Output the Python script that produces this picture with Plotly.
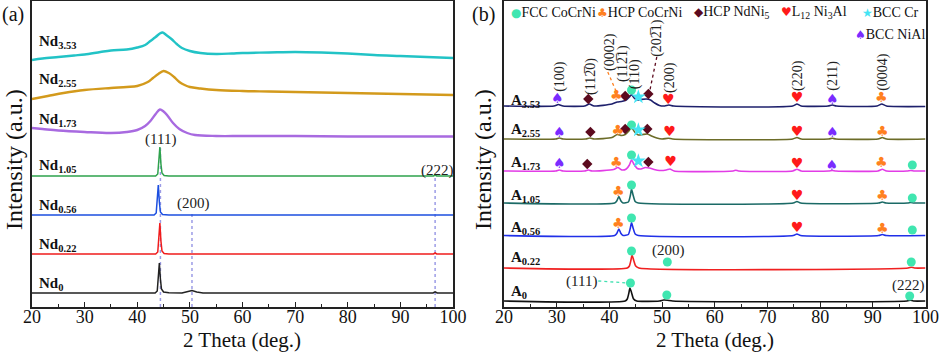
import plotly.graph_objects as go

# ---------------- Panel (a) data: 2theta and stacked intensity (a.u.) ----------------
a_names = ["Nd<sub>3.53</sub>", "Nd<sub>2.55</sub>", "Nd<sub>1.73</sub>", "Nd<sub>1.05</sub>",
           "Nd<sub>0.56</sub>", "Nd<sub>0.22</sub>", "Nd<sub>0</sub>"]
a_colors = ["#22c3c6", "#d39a1c", "#a86ae0", "#2ea24c", "#1c4fe0", "#f01c1c", "#222222"]

nd353_x = [20, 22, 25, 28, 30, 33, 35, 38, 40, 41.5, 42.5, 43.5, 44.3, 44.8, 45.5, 46.5, 47.5, 48.5, 50, 52, 55, 58, 60, 65, 70, 75, 80, 85, 90, 95, 100]
nd353_y = [247, 248.5, 250, 251.5, 252.5, 255, 256.5, 257.5, 259.5, 262, 266, 270, 273.5, 274.5, 272, 268, 263, 259, 256, 254, 253, 253.5, 254, 254.5, 255, 254.5, 253.5, 252, 251, 250, 249]

nd255_x = [20, 23, 26, 30, 35, 38, 40, 42, 43, 44, 45, 46, 47, 48, 49, 50, 52, 55, 60, 65, 70, 75, 80, 85, 90, 95, 100]
nd255_y = [208, 211, 214, 217, 219, 220, 221, 225, 229, 233, 236, 234, 230, 225, 222, 220, 218.5, 217, 216, 215.5, 215, 214.5, 214, 213.5, 213, 212.5, 212]

nd173_x = [20, 22, 25, 30, 35, 38, 40, 41.5, 42.5, 43.5, 44.3, 45, 45.8, 46.8, 48, 49.5, 51, 55, 60, 70, 80, 90, 100]
nd173_y = [179, 178, 176.5, 175, 174, 175, 177, 181, 186, 193, 197.5, 195.5, 191, 184, 178, 174, 172, 171, 171, 171, 170.5, 170.5, 170.5]

nd105_x = [20, 43.5, 43.9, 44.1, 44.3, 44.5, 44.7, 45.1, 46, 96.3, 96.6, 96.9, 100]
nd105_y = [131, 131, 133, 143, 160, 143, 134, 131.5, 131, 131, 132, 131, 131]

nd056_x = [20, 43.2, 43.6, 43.8, 44.0, 44.2, 44.4, 44.8, 46, 100]
nd056_y = [92, 92, 94, 105, 122, 105, 95, 92.5, 92, 92]

nd022_x = [20, 43.5, 43.9, 44.1, 44.3, 44.5, 44.7, 45.1, 46, 96.3, 96.6, 96.9, 100]
nd022_y = [53, 53, 55, 66, 84, 66, 56, 53.5, 53, 53, 54, 53, 53]

nd0_x = [20, 43.4, 43.8, 44.0, 44.2, 44.4, 44.6, 45.0, 46, 48.5, 49.5, 50.4, 51.3, 52.5, 96.2, 96.6, 97.0, 100]
nd0_y = [14, 14, 16, 27, 44, 28, 18, 15, 14.3, 14, 15, 16.5, 15, 14, 14, 15.2, 14, 14]

a_series = [(nd353_x, nd353_y), (nd255_x, nd255_y), (nd173_x, nd173_y), (nd105_x, nd105_y),
            (nd056_x, nd056_y), (nd022_x, nd022_y), (nd0_x, nd0_y)]
a_label_y = [265, 227, 187, 141, 101, 62, 23]

a_ref_x = [44.4, 50.4, 96.6]
a_ref_top = [159, 95, 129]
a_hkl = ["(111)", "(200)", "(222)"]
a_hkl_x = [44.5, 50.6, 97.0]
a_hkl_y = [168, 104, 137]

# ---------------- Panel (b) data ----------------
b_names = ["A<sub>3.53</sub>", "A<sub>2.55</sub>", "A<sub>1.73</sub>", "A<sub>1.05</sub>",
           "A<sub>0.56</sub>", "A<sub>0.22</sub>", "A<sub>0</sub>"]
b_colors = ["#1e206c", "#6c6c28", "#e23ce6", "#1b6a66", "#2030e8", "#f02020", "#111111"]

a353_x = [20, 29.5, 30.3, 31.2, 35.3, 36.2, 37.1, 40.5, 41.5, 42.3, 43.2, 43.8, 44.2, 44.7, 45.2, 46.0, 47.0, 47.8, 48.6, 49.5, 50.5, 51.3, 52.2, 74.8, 75.6, 76.4, 81.5, 82.3, 83.1, 90.8, 91.7, 92.6, 100]
a353_y = [201, 201, 202.5, 201, 201, 203, 201, 203, 205, 205.5, 207, 210, 212.5, 209, 207, 207.5, 208, 207, 204, 201.5, 201, 202, 201, 201, 203, 201, 201, 202, 201, 201, 203, 201, 200.5]

a255_x = [20, 29.8, 30.5, 31.2, 35.5, 36.3, 37.1, 40.5, 41.5, 42.3, 43.0, 43.7, 44.2, 44.8, 45.5, 46.3, 47.2, 48.0, 49.0, 50.0, 51.2, 52, 74.8, 75.6, 76.4, 81.6, 82.3, 83.0, 91.0, 91.8, 92.6, 100]
a255_y = [168, 168, 169, 168, 168, 169, 168, 169.5, 172.5, 171.5, 172.5, 176, 179.5, 175, 172, 172.5, 173, 171, 169, 168, 168.8, 168, 168, 169.5, 168, 168, 168.7, 168, 168, 169.5, 168, 168]

a173_x = [20, 29.8, 30.5, 31.2, 35.3, 36.0, 36.7, 40.8, 41.6, 42.4, 43.2, 43.8, 44.2, 44.7, 45.3, 46.0, 46.8, 47.6, 48.5, 49.5, 50.8, 51.5, 52.3, 63.5, 64.0, 64.5, 74.8, 75.6, 76.4, 81.6, 82.3, 83.0, 91.0, 91.8, 92.6, 96.5, 97.2, 97.9, 100]
a173_y = [136, 136, 137, 136, 136, 137, 136, 137.5, 139.5, 137, 138, 142, 147, 142.5, 138.5, 138, 139.5, 139, 137.5, 136.5, 137, 138, 136, 136, 136.7, 136, 136, 137.7, 136, 136, 136.5, 136, 136, 137.7, 136, 136, 136.5, 136, 136]

a105_x = [20, 41.0, 41.4, 41.8, 42.2, 42.6, 43.6, 44.0, 44.2, 44.5, 44.9, 45.5, 74.9, 75.6, 76.3, 91.1, 91.8, 92.5, 96.6, 97.2, 97.8, 100]
a105_y = [104, 104, 106, 110.5, 106, 104, 105, 112, 118, 112, 105.5, 104, 104, 105.5, 104, 104, 105, 104, 104, 104.5, 104, 104]

a056_x = [20, 41.0, 41.4, 41.8, 42.2, 42.6, 43.6, 44.0, 44.2, 44.5, 44.9, 45.5, 74.9, 75.6, 76.3, 91.1, 91.8, 92.5, 100]
a056_y = [71.5, 71.5, 73.5, 78, 73.5, 71.5, 72.5, 79.5, 84.5, 79, 73, 71.5, 71.5, 73, 71.5, 71.5, 72.5, 71.5, 71.5]

a022_x = [20, 43.4, 43.8, 44.1, 44.3, 44.6, 45.0, 45.6, 96.7, 97.3, 97.9, 100]
a022_y = [39, 39, 41, 47, 52, 47, 41, 39, 39, 39.8, 39, 39]

a0_x = [20, 43.0, 43.4, 43.7, 43.9, 44.2, 44.6, 45.2, 49.5, 50.3, 51.0, 52, 96.5, 97.1, 97.7, 100]
a0_y = [6, 6, 8, 14, 19, 14.5, 8, 6, 6, 7, 6.8, 6, 6, 6.8, 6, 6]

b_series = [(a353_x, a353_y), (a255_x, a255_y), (a173_x, a173_y), (a105_x, a105_y),
            (a056_x, a056_y), (a022_x, a022_y), (a0_x, a0_y)]
b_label_y = [206, 177, 144, 111, 79, 49, 15]

# phase markers (2theta, stacked height)
fcc_x = [44.2, 44.2, 44.2, 97.5, 44.2, 97.5, 44.2, 97.5, 44.2, 51.0, 97.3, 44.0, 50.9, 97.0]
fcc_y = [217, 182, 152, 142, 122, 109, 89, 77, 56, 45, 45, 24, 12, 11]
hcp_x = [41.3, 41.6, 41.3, 41.7, 41.7, 91.6, 91.8, 91.6, 91.8, 91.8]
hcp_y = [211, 176, 144, 115, 83, 209, 175, 144, 111, 78]
ndni5_x = [36.0, 43.0, 47.4, 36.4, 43.0, 47.2, 35.8, 47.4]
ndni5_y = [208, 211, 213, 175, 178, 178, 143, 145]
l12_x = [51.2, 75.6, 51.4, 75.6, 51.6, 75.6, 75.6, 75.6]
l12_y = [207, 209, 175, 175, 145, 143, 111, 79]
bcccr_x = [45.5, 45.5, 45.5]
bcccr_y = [210, 177, 146]
nial_x = [30.1, 82.3, 30.5, 82.3, 30.5, 82.2]
nial_y = [208, 207, 174, 174, 143, 141]

OV = "\u0305"
b_top_hkl = ["(100)", "(112" + OV + "0)", "(0002)", "(112" + OV + "1)", "(110)", "(202" + OV + "1)",
             "(200)", "(220)", "(211)", "(0004)"]
b_top_x = [30.6, 36.5, 40.1, 42.6, 44.9, 49.0, 51.5, 75.8, 82.4, 91.9]
b_top_y = [231, 231, 255, 243, 233, 269, 230, 231, 231, 235]

b_low_hkl = ["(111)", "(200)", "(222)"]
b_low_x = [34.8, 51.3, 96.7]
b_low_y = [26, 57, 22]

TF = "Liberation Serif"
fig = go.Figure()

# reference dotted lines (a)
for xv, top in zip(a_ref_x, a_ref_top):
    fig.add_trace(go.Scatter(x=[xv, xv], y=[0, top], mode="lines", xaxis="x", yaxis="y",
                             line=dict(color="#9c9ce6", width=1.5, dash="dot"), hoverinfo="skip"))

for (xs, ys), c, i in zip(a_series, a_colors, range(7)):
    shape = "spline" if i < 3 else "linear"
    fig.add_trace(go.Scatter(x=xs, y=ys, mode="lines", xaxis="x", yaxis="y",
                             line=dict(color=c, width=2.4 if i < 3 else 1.5, shape=shape)))

for (xs, ys), c in zip(b_series, b_colors):
    fig.add_trace(go.Scatter(x=xs, y=ys, mode="lines", xaxis="x2", yaxis="y2",
                             line=dict(color=c, width=1.6, shape="spline", smoothing=0.6)))

# connector dotted lines (b)
fig.add_trace(go.Scatter(x=[39.7, 41.4], y=[235, 214], mode="lines", xaxis="x2", yaxis="y2",
                         line=dict(color="#ff8020", width=1.3, dash="dot")))
fig.add_trace(go.Scatter(x=[49.0, 47.7], y=[250, 217], mode="lines", xaxis="x2", yaxis="y2",
                         line=dict(color="#5c0a1e", width=1.3, dash="dot")))
fig.add_trace(go.Scatter(x=[37.9, 43.5], y=[26, 24], mode="lines", xaxis="x2", yaxis="y2",
                         line=dict(color="#40e0b0", width=1.3, dash="dot")))

# markers
fig.add_trace(go.Scatter(x=fcc_x, y=fcc_y, mode="markers", xaxis="x2", yaxis="y2",
                         marker=dict(symbol="circle", size=9, color="#40e6b0")))
fig.add_trace(go.Scatter(x=ndni5_x, y=ndni5_y, mode="markers", xaxis="x2", yaxis="y2",
                         marker=dict(symbol="diamond", size=8, color="#5c0a1e")))
fig.add_trace(go.Scatter(x=bcccr_x, y=bcccr_y, mode="markers", xaxis="x2", yaxis="y2",
                         marker=dict(symbol="star", size=11, color="#44e4f4")))
for gx, gy, ch, col in [(hcp_x, hcp_y, "\u2663", "#ff8020"), (l12_x, l12_y, "\u2665", "#ff1a1a"),
                        (nial_x, nial_y, "\u2660", "#7a2cff")]:
    fig.add_trace(go.Scatter(x=gx, y=gy, mode="text", xaxis="x2", yaxis="y2", text=[ch] * len(gx),
                             textposition="middle center",
                             textfont=dict(family="DejaVu Sans", size=14, color=col)))

ann = []
# sample labels
for name, yv in zip(a_names, a_label_y):
    ann.append(dict(x=20.9, y=yv, xref="x", yref="y", text="<b>" + name + "</b>", showarrow=False,
                    xanchor="left", yanchor="middle", font=dict(family=TF, size=15, color="#111")))
for name, yv in zip(b_names, b_label_y):
    ann.append(dict(x=20.9, y=yv, xref="x2", yref="y2", text="<b>" + name + "</b>", showarrow=False,
                    xanchor="left", yanchor="middle", font=dict(family=TF, size=15, color="#111")))
for t, xv, yv in zip(a_hkl, a_hkl_x, a_hkl_y):
    ann.append(dict(x=xv, y=yv, xref="x", yref="y", text=t, showarrow=False,
                    xanchor="center", yanchor="middle",
                    font=dict(family=TF, size=15, color="#222")))
for t, xv, yv in zip(b_low_hkl, b_low_x, b_low_y):
    ann.append(dict(x=xv, y=yv, xref="x2", yref="y2", text=t, showarrow=False,
                    xanchor="center", yanchor="middle",
                    font=dict(family=TF, size=15, color="#222")))
for t, xv, yv in zip(b_top_hkl, b_top_x, b_top_y):
    ann.append(dict(x=xv, y=yv, xref="x2", yref="y2", text=t, showarrow=False, textangle=-90,
                    xanchor="center", yanchor="middle",
                    font=dict(family=TF, size=14, color="#222")))

# legend for (b)
leg = [("\u25CF", "#40e6b0", "FCC CoCrNi", 509, 13),
       ("\u2663", "#ff8020", "HCP CoCrNi", 595, 13),
       ("\u25C6", "#5c0a1e", "HCP NdNi<sub>5</sub>", 692, 13),
       ("\u2665", "#ff1a1a", "L<sub>12</sub> Ni<sub>3</sub>Al", 779, 13),
       ("\u2605", "#44e4f4", "BCC Cr", 860, 13),
       ("\u2660", "#7a2cff", "BCC NiAl", 853, 35)]
for sym, col, txt, px, py in leg:
    ann.append(dict(x=px / 940, y=1 - py / 353, xref="paper", yref="paper",
                    text=f"<span style='color:{col};font-family:DejaVu Sans;font-size:12px'>{sym}</span>{txt}",
                    showarrow=False, xanchor="left", yanchor="middle",
                    font=dict(family=TF, size=14, color="#111")))

# panel letters and axis titles
for lbl, cx in [("(a)", 13), ("(b)", 483)]:
    ann.append(dict(x=cx / 940, y=1 - 15 / 353, xref="paper", yref="paper", text=lbl, showarrow=False,
                    xanchor="center", yanchor="middle", font=dict(family=TF, size=20, color="#111")))
for cx in [14, 483]:
    ann.append(dict(x=cx / 940, y=1 - 160 / 353, xref="paper", yref="paper", text="Intensity (a.u.)",
                    showarrow=False, textangle=-90, xanchor="center", yanchor="middle",
                    font=dict(family=TF, size=24, color="#111")))
for cx in [242, 715]:
    ann.append(dict(x=cx / 940, y=1 - 340 / 353, xref="paper", yref="paper", text="2 Theta (deg.)",
                    showarrow=False, xanchor="center", yanchor="middle",
                    font=dict(family=TF, size=21, color="#111")))

xcommon = dict(range=[20, 100], dtick=10, tick0=20, ticks="inside", ticklen=5, tickwidth=1.2,
               tickcolor="#222", showline=True, mirror=True, linecolor="#222", linewidth=1.5,
               showgrid=False, zeroline=False, automargin=False, ticklabelstandoff=-7,
               tickfont=dict(family=TF, size=18, color="#111"),
               minor=dict(ticks="inside", ticklen=3, dtick=5, tickcolor="#222", tickwidth=1.2))
ycommon = dict(range=[0, 306], showticklabels=False, ticks="", showline=True, mirror=True,
               linecolor="#222", linewidth=1.5, showgrid=False, zeroline=False, automargin=False)
ydom = [46 / 353, 352 / 353]

fig.update_layout(
    width=940, height=353, margin=dict(l=0, r=0, t=0, b=0, autoexpand=False),
    paper_bgcolor="white", plot_bgcolor="white", showlegend=False,
    xaxis=dict(domain=[32 / 940, 453 / 940], anchor="y", **xcommon),
    yaxis=dict(domain=ydom, anchor="x", **ycommon),
    xaxis2=dict(domain=[504 / 940, 925.5 / 940], anchor="y2", **xcommon),
    yaxis2=dict(domain=ydom, anchor="x2", **ycommon),
    annotations=ann,
)
fig.write_html("out.html")
